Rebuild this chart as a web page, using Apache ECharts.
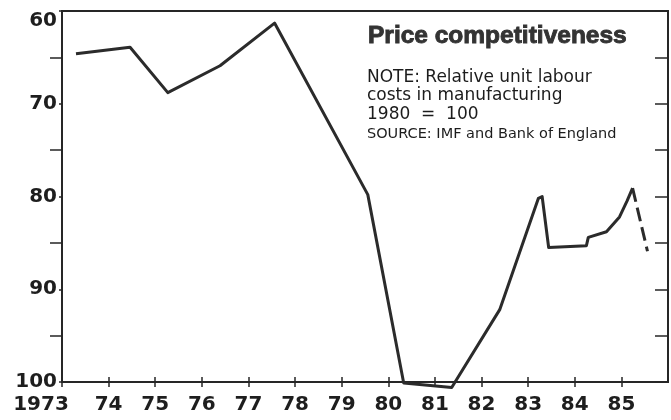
<!DOCTYPE html>
<html>
<head>
<meta charset="utf-8">
<script src="https://cdnjs.cloudflare.com/ajax/libs/echarts/6.0.0/echarts.min.js"></script>
<style>
  html, body { margin: 0; padding: 0; background: #fff; }
  #chart { width: 671px; height: 420px; }
</style>
</head>
<body>
<div id="chart"></div>
<script>
// relative unit labour costs, 1980 = 100 (axis inverted)
var solidYears = [1973.30, 1974.46, 1975.27, 1976.39, 1977.56, 1979.56, 1980.33, 1981.36, 1982.39, 1983.22, 1983.30, 1983.44, 1984.25, 1984.29, 1984.68, 1984.96, 1985.12, 1985.24];
var solidValues = [64.6, 63.9, 68.8, 65.9, 61.3, 79.8, 100.1, 100.6, 92.2, 80.2, 80.0, 85.5, 85.3, 84.4, 83.8, 82.2, 80.5, 79.1];
var dashYears = [1985.24, 1985.56];
var dashValues = [79.1, 85.9];

var noteLines = ['NOTE: Relative unit labour', 'costs in manufacturing', '1980  =  100'];
var sourceLine = 'SOURCE: IMF and Bank of England';
var titleText = 'Price competitiveness';

var INK = '#262626';
var LABEL_FONT = '"DejaVu Sans", sans-serif';

function pairs(xs, ys) {
  return xs.map(function (x, i) { return [x, ys[i]]; });
}

var chart = echarts.init(document.getElementById('chart'), null, { renderer: 'canvas' });

var graphics = [
  {
    type: 'text', x: 368, y: 36,
    style: {
      text: titleText, fill: '#333', stroke: '#333', lineWidth: 0.9,
      font: 'bold 24.5px "Liberation Sans", Arial, sans-serif', verticalAlign: 'middle'
    }
  }
];
var noteY = [78, 96, 115];
noteLines.forEach(function (t, i) {
  graphics.push({
    type: 'text', x: 367, y: noteY[i],
    style: { text: t, fill: '#1c1c1c', font: '17px "DejaVu Sans", sans-serif', verticalAlign: 'middle' }
  });
});
graphics.push({
  type: 'text', x: 367, y: 134,
  style: { text: sourceLine, fill: '#1c1c1c', font: '14.5px "DejaVu Sans", sans-serif', verticalAlign: 'middle' }
});

chart.setOption({
  backgroundColor: '#fff',
  animation: false,
  grid: {
    left: 62, right: 3, top: 11, bottom: 38,
    show: true, borderColor: INK, borderWidth: 2, backgroundColor: 'transparent'
  },
  xAxis: [
    {
      type: 'value', min: 1973, max: 1986, interval: 1,
      axisLine: { lineStyle: { color: INK, width: 2 } },
      axisTick: { inside: false, length: 5, lineStyle: { color: INK, width: 1.5 } },
      axisLabel: {
        color: '#1e1e1e', fontFamily: LABEL_FONT, fontWeight: 'bold', fontSize: 20, margin: 13,
        showMaxLabel: false,
        formatter: function (v) { return v === 1973 ? '{first|1973}' : String(v).slice(2); },
        rich: {
          first: { fontFamily: LABEL_FONT, fontWeight: 'bold', fontSize: 20, color: '#1e1e1e', padding: [0, 42, 0, 0] }
        }
      },
      splitLine: { show: false }
    },
    {
      type: 'value', min: 1973, max: 1986, interval: 1, position: 'bottom',
      axisLine: { show: false },
      axisTick: { inside: true, length: 5, lineStyle: { color: INK, width: 1.5 } },
      axisLabel: { show: false },
      splitLine: { show: false }
    }
  ],
  yAxis: [
    {
      type: 'value', inverse: true, min: 60, max: 100, interval: 10,
      axisLine: { show: true, lineStyle: { color: INK, width: 2 } },
      axisTick: { show: true, length: 3, lineStyle: { color: INK, width: 1.5 } },
      minorTick: { show: true, splitNumber: 2, length: 12, lineStyle: { color: INK, width: 1.5 } },
      axisLabel: {
        color: '#1e1e1e', fontFamily: LABEL_FONT, fontWeight: 'bold', fontSize: 20, margin: 5,
        verticalAlignMinLabel: 'top'
      },
      splitLine: { show: false }
    },
    {
      type: 'value', inverse: true, min: 60, max: 100, interval: 5, position: 'right',
      axisLine: { show: false },
      axisTick: { show: true, inside: true, length: 13, lineStyle: { color: INK, width: 1.5 } },
      axisLabel: { show: false },
      splitLine: { show: false }
    }
  ],
  series: [
    {
      type: 'line', xAxisIndex: 0, yAxisIndex: 0, clip: false,
      data: pairs(solidYears, solidValues),
      showSymbol: false, symbol: 'none',
      lineStyle: { color: '#2b2b2b', width: 3, join: 'round' }
    },
    {
      type: 'line', xAxisIndex: 0, yAxisIndex: 0, clip: false,
      data: pairs(dashYears, dashValues),
      showSymbol: false, symbol: 'none',
      lineStyle: { color: '#2b2b2b', width: 3, type: [14, 6] }
    }
  ],
  graphic: graphics
});
</script>
</body>
</html>
